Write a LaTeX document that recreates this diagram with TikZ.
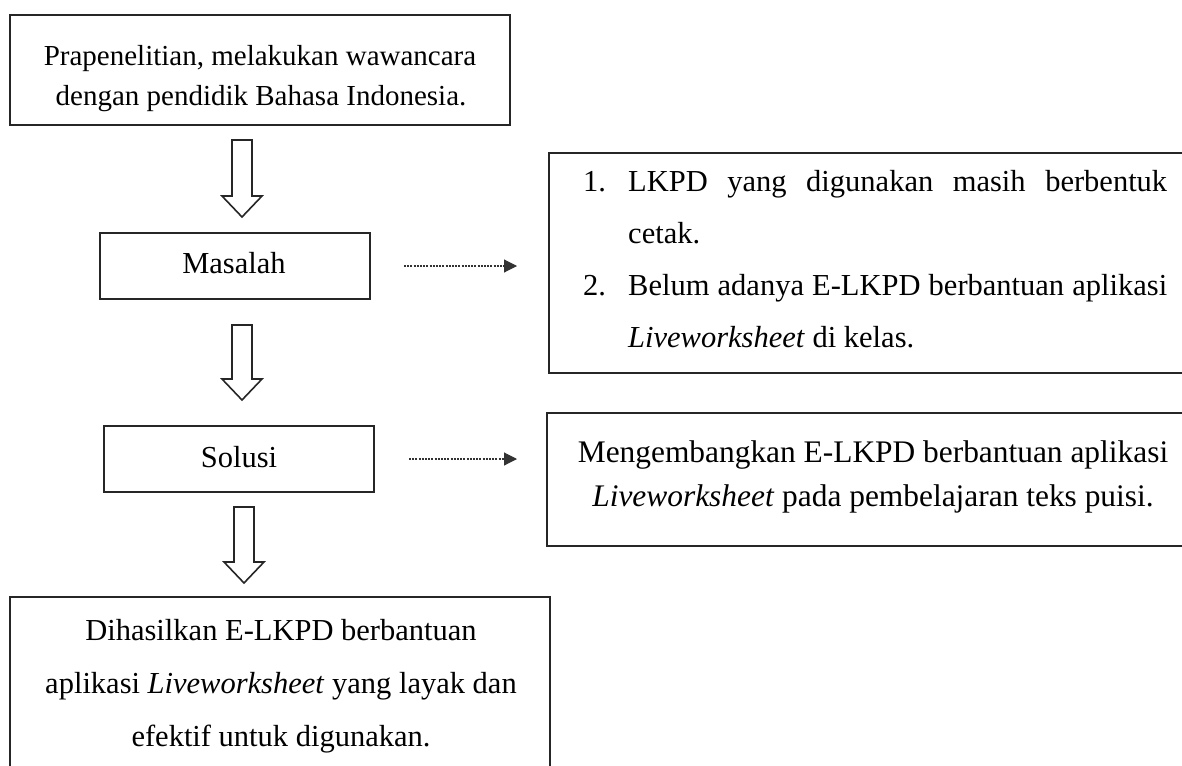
\documentclass[tikz,border=0pt]{standalone}
\usepackage{fontspec}
\setmainfont{Liberation Serif}
\usetikzlibrary{arrows.meta,calc}
\tikzset{
  boxd/.style={draw=black!85, line width=2pt, rectangle, inner sep=0pt},
  txt/.style={inner sep=0pt, font=\fontsize{30.5}{40}\selectfont},
  blockarr/.style={draw=black!85, line width=1.6pt, fill=white, line join=miter},
  dotarr/.style={black!80, line width=1.1pt, dash pattern=on 2pt off 1.2pt,
    -{Triangle[length=13pt,width=13pt]}},
}
\newcommand{\hollowarrow}[3]{%
  \draw[blockarr] ({#1-10},#2) -- ({#1+10},#2) -- ({#1+10},{#3-21}) -- ({#1+20},{#3-21})
   -- (#1,#3) -- ({#1-20},{#3-21}) -- ({#1-10},{#3-21}) -- cycle;}
\begin{document}
\begin{tikzpicture}[x=1pt,y=-1pt]
\useasboundingbox (0,0) rectangle (1182,765);
\fill[white] (0,0) rectangle (1182,765);
\clip (0,0) rectangle (1182,765);

% boxes
\node[boxd, minimum width=500pt, minimum height=110pt] (b1) at (260,70) {};
\node[boxd, minimum width=270pt, minimum height=66pt] (masalah) at (235,266) {};
\node[boxd, minimum width=270pt, minimum height=66pt] (solusi) at (239,459) {};
\node[boxd, minimum width=540pt, minimum height=220pt] (hasil) at (280,707) {};
\node[boxd, minimum width=660pt, minimum height=220pt] (r1) at (879,263) {};
\node[boxd, minimum width=660pt, minimum height=133pt] (r2) at (877,479.5) {};

% texts
\node[txt, font=\fontsize{29}{40}\selectfont, anchor=base] (t1a) at (260,66) {Prapenelitian, melakukan wawancara};
\node[txt, font=\fontsize{29}{40}\selectfont, anchor=base] (t1b) at (261,106) {dengan pendidik Bahasa Indonesia.};
\node[txt, anchor=base] (tm) at (234,273) {Masalah};
\node[txt, anchor=base] (ts) at (239,467) {Solusi};
\node[txt, anchor=base] (th1) at (281,640) {Dihasilkan E-LKPD berbantuan};
\node[txt, anchor=base] (th2) at (281,693) {aplikasi \textit{Liveworksheet} yang layak dan};
\node[txt, anchor=base] (th3) at (281,746) {efektif untuk digunakan.};
\node[txt, font=\fontsize{31.4}{40}\selectfont, anchor=base] (tr2a) at (873,462) {Mengembangkan E-LKPD berbantuan aplikasi};
\node[txt, font=\fontsize{31.4}{40}\selectfont, anchor=base] (tr2b) at (873,506) {\textit{Liveworksheet} pada pembelajaran teks puisi.};

\node[txt, anchor=base west] (n1) at (583,191) {1.};
\node[txt, anchor=base west] (l1a) at (628,191)
  {\makebox[539pt][s]{LKPD\hfill yang\hfill digunakan\hfill masih\hfill berbentuk}};
\node[txt, anchor=base west] (l1b) at (628,243) {cetak.};
\node[txt, anchor=base west] (n2) at (583,295) {2.};
\node[txt, anchor=base west] (l2a) at (628,295)
  {\makebox[539pt][s]{Belum adanya E-LKPD berbantuan aplikasi}};
\node[txt, anchor=base west] (l2b) at (628,347) {\textit{Liveworksheet} di kelas.};

% hollow arrows
\hollowarrow{242}{140}{217}
\hollowarrow{242}{325}{400}
\hollowarrow{244}{507}{583}

% dotted arrows
\draw[dotarr, shorten <=33pt, shorten >=31pt] (masalah.east) -- (masalah.east -| r1.west);
\draw[dotarr, shorten <=34pt, shorten >=29pt] (solusi.east) -- (solusi.east -| r2.west);
\end{tikzpicture}
\end{document}
